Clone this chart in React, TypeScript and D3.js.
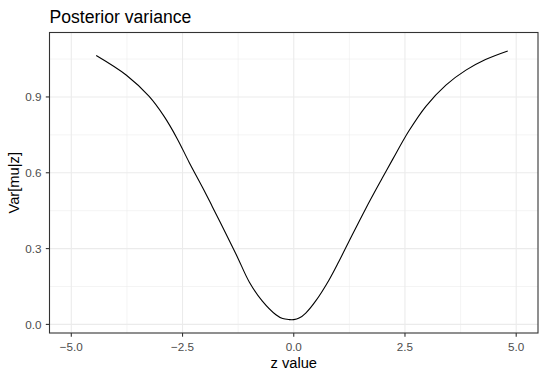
import React, { useRef, useEffect } from 'react';
import * as d3 from 'd3';

// curve
const zValues = [-4.44, -3.76, -3.25, -2.91, -2.62, -2.35, -2.02, -1.83, -1.53, -1.27, -1.0, -0.71, -0.4, -0.25, -0.1, 0.0, 0.12, 0.27, 0.49, 0.79, 1.02, 1.24, 1.62, 1.99, 2.22, 2.59, 2.97, 3.42, 3.87, 4.31, 4.81];
const varValues = [1.064, 0.986, 0.902, 0.822, 0.735, 0.641, 0.532, 0.466, 0.361, 0.268, 0.168, 0.093, 0.038, 0.023, 0.019, 0.019, 0.025, 0.045, 0.092, 0.175, 0.251, 0.328, 0.459, 0.579, 0.652, 0.766, 0.863, 0.947, 1.006, 1.048, 1.082];

const xTicks = [-5, -2.5, 0, 2.5, 5];
const xMinor = [-3.75, -1.25, 1.25, 3.75];
const yTicks = [0, 0.3, 0.6, 0.9];
const yMinor = [0.15, 0.45, 0.75, 1.05];

const App = () => {
  const ref = useRef<SVGSVGElement>(null);

  useEffect(() => {
    const svg = d3.select(ref.current);
    svg.selectAll('*').remove();

    const W = 546, H = 378;
    const margin = { top: 32.5, right: 8, bottom: 45, left: 49.5 };
    const x = d3.scaleLinear().domain([-5.49, 5.49]).range([margin.left, W - margin.right]);
    const y = d3.scaleLinear().domain([-0.034, 1.155]).range([H - margin.bottom, margin.top]);

    svg.append('rect').attr('width', W).attr('height', H).attr('fill', '#fff');

    const grid = svg.append('g');
    grid.selectAll('.xm').data(xMinor).enter().append('line')
      .attr('x1', d => x(d)).attr('x2', d => x(d))
      .attr('y1', margin.top).attr('y2', H - margin.bottom)
      .attr('stroke', '#EBEBEB').attr('stroke-width', 0.55);
    grid.selectAll('.ym').data(yMinor).enter().append('line')
      .attr('y1', d => y(d)).attr('y2', d => y(d))
      .attr('x1', margin.left).attr('x2', W - margin.right)
      .attr('stroke', '#EBEBEB').attr('stroke-width', 0.55);
    grid.selectAll('.xM').data(xTicks).enter().append('line')
      .attr('x1', d => x(d)).attr('x2', d => x(d))
      .attr('y1', margin.top).attr('y2', H - margin.bottom)
      .attr('stroke', '#EBEBEB').attr('stroke-width', 1.1);
    grid.selectAll('.yM').data(yTicks).enter().append('line')
      .attr('y1', d => y(d)).attr('y2', d => y(d))
      .attr('x1', margin.left).attr('x2', W - margin.right)
      .attr('stroke', '#EBEBEB').attr('stroke-width', 1.1);

    const pts = zValues.map((z, i) => [z, varValues[i]] as [number, number]);
    const line = d3.line<[number, number]>()
      .x(d => x(d[0]))
      .y(d => y(d[1]))
      .curve(d3.curveCatmullRom.alpha(0.5));
    svg.append('path')
      .datum(pts)
      .attr('fill', 'none')
      .attr('stroke', '#000')
      .attr('stroke-width', 1.1)
      .attr('d', line);

    svg.append('rect')
      .attr('x', margin.left).attr('y', margin.top)
      .attr('width', W - margin.right - margin.left)
      .attr('height', H - margin.bottom - margin.top)
      .attr('fill', 'none').attr('stroke', '#333333').attr('stroke-width', 1.1);

    const font = '"Liberation Sans", Arial, sans-serif';

    // x axis
    const xa = svg.append('g');
    xTicks.forEach(t => {
      xa.append('line')
        .attr('x1', x(t)).attr('x2', x(t))
        .attr('y1', H - margin.bottom).attr('y2', H - margin.bottom + 3.7)
        .attr('stroke', '#333333').attr('stroke-width', 1.1);
      xa.append('text')
        .attr('x', x(t)).attr('y', 351)
        .attr('text-anchor', 'middle')
        .attr('font-family', font).attr('font-size', 11.7)
        .attr('fill', '#4D4D4D')
        .text(d3.format('.1f')(t));
    });

    // y axis
    const ya = svg.append('g');
    yTicks.forEach(t => {
      ya.append('line')
        .attr('x1', margin.left - 3.7).attr('x2', margin.left)
        .attr('y1', y(t)).attr('y2', y(t))
        .attr('stroke', '#333333').attr('stroke-width', 1.1);
      ya.append('text')
        .attr('x', 41.5).attr('y', y(t) + 4.2)
        .attr('text-anchor', 'end')
        .attr('font-family', font).attr('font-size', 11.7)
        .attr('fill', '#4D4D4D')
        .text(d3.format('.1f')(t));
    });

    svg.append('text')
      .attr('x', (margin.left + W - margin.right) / 2).attr('y', 368)
      .attr('text-anchor', 'middle')
      .attr('font-family', font).attr('font-size', 14.7)
      .text('z value');

    svg.append('text')
      .attr('transform', `translate(19,${(margin.top + H - margin.bottom) / 2}) rotate(-90)`)
      .attr('text-anchor', 'middle')
      .attr('font-family', font).attr('font-size', 14.7)
      .text('Var[mu|z]');

    svg.append('text')
      .attr('x', margin.left).attr('y', 22.5)
      .attr('font-family', font).attr('font-size', 17.6)
      .text('Posterior variance');
  }, []);

  return (
    <svg ref={ref} width={546} height={378}
      style={{ position: 'absolute', left: 0, top: 0, display: 'block' }} />
  );
};

export default App;
